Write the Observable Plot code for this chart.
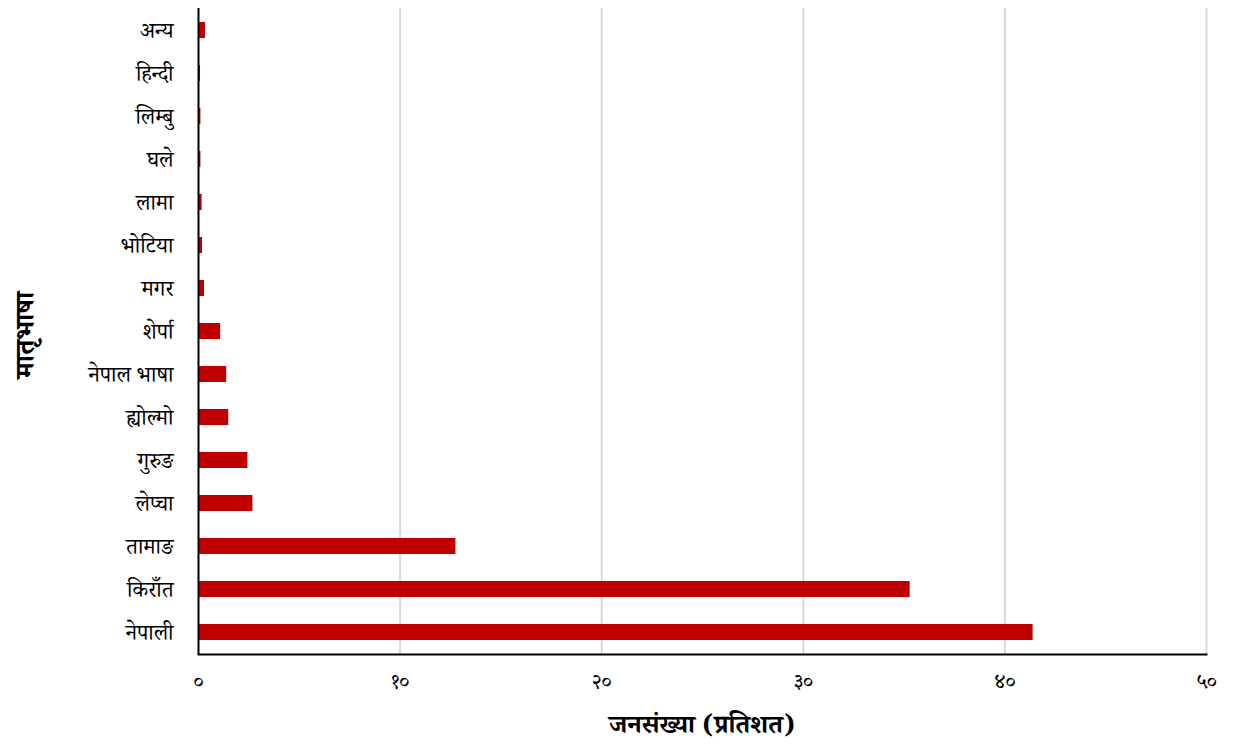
<!DOCTYPE html>
<html>
<head>
<meta charset="utf-8">
<script src="https://cdn.jsdelivr.net/npm/d3@7"></script>
<script src="https://cdn.jsdelivr.net/npm/@observablehq/plot@0.6"></script>
<style>
  body { margin: 0; background: #fff; }
  #chart { position: relative; width: 1235px; height: 752px; }
  svg { font-family: "Noto Serif Devanagari", "Noto Sans Devanagari", "Noto Sans", sans-serif; }
</style>
</head>
<body>
<div id="chart"></div>
<script>
const languages = ["अन्य", "हिन्दी", "लिम्बु", "घले", "लामा", "भोटिया", "मगर", "शेर्पा", "नेपाल भाषा", "ह्योल्मो", "गुरुङ", "लेप्चा", "तामाङ", "किराँत", "नेपाली"];
const percents = [0.35, 0.1, 0.12, 0.12, 0.18, 0.2, 0.3, 1.1, 1.4, 1.5, 2.45, 2.7, 12.77, 35.3, 41.4];
const tickValues = [0, 10, 20, 30, 40, 50];
const tickLabels = ["०", "१०", "२०", "३०", "४०", "५०"];
const xTitle = "जनसंख्या (प्रतिशत)";
const yTitle = "मातृभाषा";

const data = languages.map((l, i) => ({language: l, value: percents[i]}));

const chart = Plot.plot({
  width: 1235,
  height: 752,
  marginLeft: 198,
  marginRight: 29,
  marginTop: 8,
  marginBottom: 98,
  style: {fontSize: "21px", background: "white"},
  x: {
    domain: [0, 50],
    ticks: tickValues,
    tickFormat: d => tickLabels[tickValues.indexOf(d)],
    tickSize: 0,
    tickPadding: 19,
    label: null
  },
  y: {
    domain: languages,
    paddingInner: 0.63,
    paddingOuter: 0.315,
    tickSize: 0,
    tickPadding: 25,
    label: null
  },
  marks: [
    Plot.gridX(tickValues.slice(1), {stroke: "#d9d9d9", strokeOpacity: 1, strokeWidth: 2}),
    Plot.barX(data, {x: "value", y: "language", fill: "#c00000"}),
    Plot.ruleX([0], {stroke: "black", strokeWidth: 2}),
    Plot.frame({anchor: "bottom", stroke: "black", strokeWidth: 2})
  ]
});

const root = document.getElementById("chart");
root.appendChild(chart);

const svg = d3.select(chart);
svg.selectAll('[aria-label="y-axis tick label"]').style("font-size", "22px");
svg.append("text")
  .attr("x", 702).attr("y", 733)
  .attr("text-anchor", "middle")
  .style("font-size", "26px").style("font-weight", "bold")
  .text(xTitle);
svg.append("text")
  .attr("transform", "translate(34,335) rotate(-90)")
  .attr("text-anchor", "middle")
  .style("font-size", "27px").style("font-weight", "bold")
  .text(yTitle);
</script>
</body>
</html>
